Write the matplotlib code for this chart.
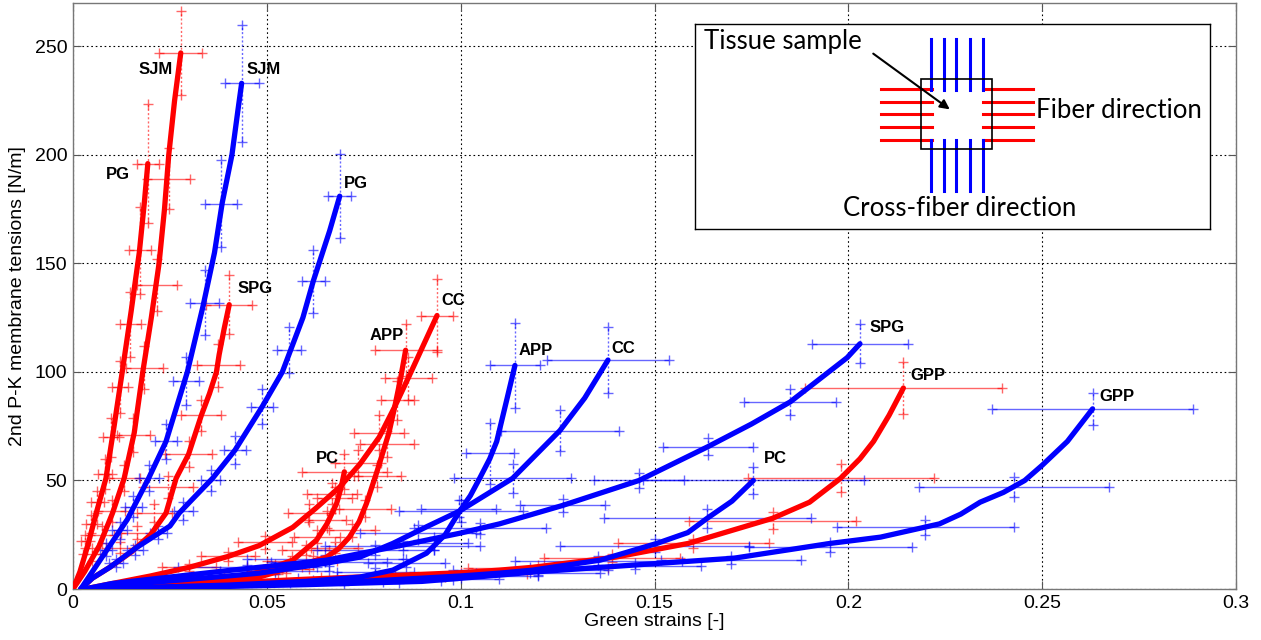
import numpy as np
import matplotlib
matplotlib.use("Agg")
import matplotlib.pyplot as plt

plt.rcParams["font.family"] = ["Liberation Sans", "DejaVu Sans"]

RED = "#ff0000"
BLUE = "#0000ff"

# ---- fiber direction (red) ----
sjm_f_x = [0, 0.003, 0.0068, 0.0102, 0.0132, 0.0158, 0.018, 0.0202, 0.0222, 0.0236, 0.0247, 0.0262, 0.0278]
sjm_f_y = [0, 8, 20, 35, 51, 72, 100, 125, 150, 175, 200, 225, 247]
sjm_f_bars = [(0.0278, 247, 0.0056, 19.5), (0.0247, 189, 0.0055, 14), (0.0217, 140, 0.0051, 12),
              (0.0184, 102, 0.0048, 10), (0.0156, 71, 0.0043, 8), (0.0132, 51, 0.004, 6),
              (0.0100, 36, 0.0035, 5), (0.0075, 25, 0.003, 4), (0.005, 16, 0.0025, 3)]

pg_f_x = [0, 0.0018, 0.0038, 0.006, 0.0085, 0.0106, 0.0127, 0.015, 0.0171, 0.0184, 0.0193]
pg_f_y = [0, 8, 20, 35, 51, 75, 100, 128, 155, 178, 196]
pg_f_bars = [(0.0193, 196, 0.0029, 27.5), (0.0172, 156, 0.0028, 20), (0.0148, 122, 0.0028, 15),
             (0.0122, 93, 0.0021, 12), (0.0098, 70, 0.002, 9), (0.0082, 53, 0.0018, 7),
             (0.0063, 40, 0.0016, 5), (0.0047, 30, 0.0014, 4), (0.0032, 22, 0.0012, 3)]

spg_f_x = [0.002, 0.005, 0.0095, 0.015, 0.020, 0.024, 0.0266, 0.0298, 0.0331, 0.0352, 0.037, 0.0377, 0.039, 0.0403]
spg_f_y = [0, 5, 10, 17, 25, 35, 51, 62, 80, 90, 100, 108, 120, 131]
spg_f_bars = [(0.0403, 131, 0.006, 13.5), (0.0375, 103, 0.0056, 10), (0.0331, 80, 0.0052, 7),
              (0.0298, 62, 0.006, 6), (0.0245, 47, 0.0065, 5), (0.021, 35, 0.0045, 4),
              (0.0165, 26, 0.0042, 3), (0.012, 19, 0.0035, 2.5)]

app_f_x = [0.003, 0.02, 0.04, 0.048, 0.0567, 0.0654, 0.0685, 0.0713, 0.0738, 0.0757, 0.0785, 0.0815, 0.083, 0.0845, 0.0858]
app_f_y = [0, 1.5, 3, 5.5, 10, 14.7, 18.5, 23.9, 31, 39.4, 54.6, 72, 84, 97, 110]
app_f_bars = [(0.0858, 110, 0.008, 12), (0.0837, 87, 0.0043, 9), (0.081, 67, 0.007, 6),
              (0.0785, 52, 0.006, 5), (0.0753, 37, 0.0067, 4), (0.072, 27, 0.006, 3),
              (0.0675, 19, 0.006, 2.5), (0.062, 13, 0.006, 2), (0.055, 9, 0.006, 1.5)]

cc_f_x = [0.003, 0.01, 0.02, 0.03, 0.04, 0.048, 0.0567, 0.0625, 0.0687, 0.074, 0.079, 0.083, 0.0872, 0.0939]
cc_f_y = [0, 2.5, 6, 10, 15, 20, 28.4, 37, 46.8, 57.5, 70, 84, 100, 126]
cc_f_bars = [(0.0939, 126, 0.0042, 17), (0.0865, 97, 0.006, 10), (0.079, 72, 0.0065, 8),
             (0.0735, 58, 0.006, 6), (0.0668, 44, 0.0065, 5), (0.061, 35, 0.0055, 4),
             (0.0495, 21.6, 0.007, 3), (0.040, 15, 0.007, 2), (0.030, 10, 0.007, 1.5)]

pc_f_x = [0.003, 0.015, 0.03, 0.04, 0.048, 0.0567, 0.0628, 0.0655, 0.068, 0.0692, 0.070]
pc_f_y = [0, 1.5, 3, 5, 7.8, 13.3, 22.5, 30, 39.4, 47, 54]
pc_f_bars = [(0.070, 54, 0.011, 8), (0.0675, 42, 0.0045, 5), (0.0655, 32, 0.005, 4),
             (0.063, 24, 0.006, 3), (0.060, 18, 0.006, 2.5), (0.0565, 13, 0.0065, 2),
             (0.052, 10, 0.007, 1.5), (0.046, 7, 0.007, 1.2)]

gpp_f_x = [0.003, 0.03, 0.06, 0.08, 0.1, 0.11, 0.1186, 0.14, 0.1587, 0.1805, 0.190, 0.198, 0.203, 0.2065, 0.2105, 0.2142]
gpp_f_y = [0, 2, 4.5, 6, 7.5, 8.7, 10, 14.7, 21, 32.6, 40, 51, 60, 68, 80, 92.6]
gpp_f_bars = [(0.2142, 92.6, 0.0255, 12), (0.198, 51, 0.024, 6.5), (0.1805, 31.5, 0.0215, 3.8),
              (0.160, 21, 0.0195, 2.2), (0.139, 14.2, 0.0175, 1.8), (0.120, 9.6, 0.018, 1.3),
              (0.10, 7, 0.017, 1), (0.08, 5.5, 0.016, 0.8)]

# ---- cross-fiber direction (blue) ----
sjm_c_x = [0.002, 0.005, 0.0095, 0.014, 0.0195, 0.024, 0.0295, 0.0335, 0.0365, 0.0385, 0.041, 0.0425, 0.0435]
sjm_c_y = [0, 8, 20, 32, 51, 68, 100, 130, 155, 178, 200, 220, 233]
sjm_c_bars = [(0.0435, 233, 0.0044, 27), (0.0382, 177.5, 0.0042, 20), (0.034, 132, 0.0037, 15),
              (0.0292, 96, 0.0033, 11), (0.024, 68, 0.0029, 8), (0.0195, 51, 0.0026, 6),
              (0.0155, 38, 0.0022, 5), (0.012, 27, 0.0019, 4), (0.0085, 18, 0.0016, 3)]

pg_c_x = [0.002, 0.005, 0.0095, 0.0163, 0.025, 0.0274, 0.0306, 0.036, 0.0418, 0.0488, 0.054, 0.0593, 0.062, 0.0662, 0.0688]
pg_c_y = [0, 5, 10, 19, 29, 35, 41, 51, 64, 84, 100, 125, 142, 165, 181]
pg_c_bars = [(0.0688, 181, 0.003, 19.5), (0.062, 141.7, 0.003, 14.5), (0.0556, 110, 0.0031, 10.5),
             (0.0488, 84, 0.0028, 8), (0.0418, 64, 0.0029, 6.5), (0.0355, 50, 0.0025, 5),
             (0.0285, 36, 0.0025, 4), (0.022, 26, 0.0022, 3), (0.016, 18, 0.002, 2.5), (0.011, 12, 0.0018, 2)]

spg_c_x = [0.003, 0.01, 0.02, 0.03, 0.04, 0.048, 0.0654, 0.0825, 0.0998, 0.110, 0.1263, 0.146, 0.1638, 0.175, 0.185, 0.1997, 0.203]
spg_c_y = [0, 2.5, 4.5, 6.5, 8.5, 10, 13.3, 19.3, 25.7, 30, 38.5, 50, 65.6, 76, 86.2, 106.6, 113]
spg_c_bars = [(0.203, 113, 0.0125, 9), (0.185, 86.2, 0.0119, 6), (0.1638, 65.6, 0.0117, 4),
              (0.146, 50, 0.0115, 3.5), (0.1263, 38.5, 0.011, 3), (0.105, 28, 0.017, 2.5),
              (0.085, 20, 0.02, 2), (0.065, 14, 0.02, 1.5), (0.045, 10, 0.018, 1)]

app_c_x = [0.003, 0.02, 0.04, 0.06, 0.074, 0.0825, 0.0912, 0.096, 0.0998, 0.1025, 0.1049, 0.1075, 0.1093, 0.112, 0.114]
app_c_y = [0, 0.8, 1.8, 3.5, 5.5, 8.7, 16.5, 25, 36, 43, 51, 60, 68, 88, 103]
app_c_bars = [(0.114, 103, 0.0065, 19.5), (0.1075, 62.5, 0.0062, 14), (0.0995, 37, 0.0097, 4),
              (0.093, 21, 0.009, 3), (0.086, 12, 0.01, 2), (0.078, 8, 0.01, 1.5), (0.068, 5, 0.01, 1)]

cc_c_x = [0.003, 0.01, 0.02, 0.03, 0.04, 0.048, 0.0654, 0.074, 0.0825, 0.091, 0.0998, 0.1134, 0.1256, 0.132, 0.138]
cc_c_y = [0, 1.5, 3, 4.5, 6, 7.3, 11.9, 14.7, 21, 28.5, 36, 51, 73, 88, 105.5]
cc_c_bars = [(0.138, 105.5, 0.0157, 15), (0.1256, 73, 0.0153, 9.5), (0.1134, 51, 0.015, 6.7),
             (0.100, 36, 0.016, 5), (0.089, 26, 0.015, 3.5), (0.078, 18, 0.015, 2.5),
             (0.066, 12.5, 0.015, 2), (0.052, 8.5, 0.014, 1.5)]

pc_c_x = [0.003, 0.03, 0.06, 0.08, 0.1, 0.110, 0.1186, 0.136, 0.1506, 0.1586, 0.1636, 0.170, 0.1755]
pc_c_y = [0, 1, 2.5, 4, 6, 7.3, 8.7, 13.3, 21, 26, 32.6, 40.5, 50]
pc_c_bars = [(0.1755, 50, 0.0285, 6), (0.1636, 32.6, 0.0267, 4.3), (0.150, 20, 0.0245, 3),
             (0.1355, 13, 0.0215, 2), (0.118, 8.7, 0.02, 1.5), (0.10, 6, 0.02, 1), (0.08, 4, 0.018, 0.8)]

gpp_c_x = [0.003, 0.03, 0.06, 0.09, 0.110, 0.1186, 0.1444, 0.1705, 0.1953, 0.2083, 0.2235, 0.229, 0.234, 0.24, 0.2455, 0.25, 0.2565, 0.263]
gpp_c_y = [0, 0.8, 2, 3.5, 6.4, 7.8, 11, 14.2, 21, 23.9, 30, 34.5, 40, 44.5, 50, 57, 68, 83]
gpp_c_bars = [(0.263, 83, 0.026, 7.3), (0.2428, 47, 0.0245, 4.5), (0.2199, 28.5, 0.0228, 3.5),
              (0.1953, 19.3, 0.021, 2.2), (0.1698, 13.3, 0.018, 1.8), (0.145, 10.5, 0.017, 1.5),
              (0.12, 7.5, 0.016, 1.2), (0.095, 4.5, 0.015, 1), (0.07, 2.8, 0.014, 0.8)]

fiber = [(sjm_f_x, sjm_f_y, sjm_f_bars), (pg_f_x, pg_f_y, pg_f_bars), (spg_f_x, spg_f_y, spg_f_bars),
         (app_f_x, app_f_y, app_f_bars), (cc_f_x, cc_f_y, cc_f_bars), (pc_f_x, pc_f_y, pc_f_bars),
         (gpp_f_x, gpp_f_y, gpp_f_bars)]
cross = [(sjm_c_x, sjm_c_y, sjm_c_bars), (pg_c_x, pg_c_y, pg_c_bars), (spg_c_x, spg_c_y, spg_c_bars),
         (app_c_x, app_c_y, app_c_bars), (cc_c_x, cc_c_y, cc_c_bars), (pc_c_x, pc_c_y, pc_c_bars),
         (gpp_c_x, gpp_c_y, gpp_c_bars)]

# curve name labels (text, x, y)
labels = [("SJM", 0.0212, 239.5), ("SJM", 0.0493, 239.5), ("PG", 0.0116, 191), ("PG", 0.073, 187),
          ("SPG", 0.0469, 138.3), ("APP", 0.081, 117), ("CC", 0.098, 133), ("APP", 0.1194, 110),
          ("CC", 0.142, 111), ("PC", 0.0655, 60), ("SPG", 0.210, 120.6), ("GPP", 0.2205, 98.4),
          ("GPP", 0.2693, 88.8), ("PC", 0.1813, 60)]


def draw_bars(ax, bars, color):
    x, y, xe, ye = np.array(bars).T
    kw = dict(color=color, alpha=0.6, zorder=2)
    ax.hlines(y, x - xe, x + xe, lw=1.0, **kw)
    ax.vlines(x, y - ye, y + ye, lw=1.0, linestyles=(0, (1.5, 1.5)), **kw)
    ax.plot(np.r_[x - xe, x + xe, x, x], np.r_[y, y, y - ye, y + ye], ls="none",
            marker="+", ms=7, mew=1.0, **kw)


fig = plt.figure(figsize=(12.61, 6.40), dpi=100)
ax = fig.add_axes([73 / 1261, 1 - 589 / 640, (1236 - 73) / 1261, (589 - 3) / 640])

for group, col in ((fiber, RED), (cross, BLUE)):
    for cx, cy, bars in group:
        draw_bars(ax, bars, col)
for group, col in ((fiber, RED), (cross, BLUE)):
    for cx, cy, bars in group:
        ax.plot(cx, cy, color=col, lw=3.8, solid_capstyle="round", solid_joinstyle="round", zorder=3)

for txt, lx, ly in labels:
    ax.text(lx, ly, txt, fontsize=12, fontweight="bold", ha="center", va="center", zorder=5)

ax.set_xlim(0, 0.3)
ax.set_ylim(0, 270)
ax.set_xticks([0, 0.05, 0.1, 0.15, 0.2, 0.25, 0.3])
ax.set_xticklabels(["0", "0.05", "0.1", "0.15", "0.2", "0.25", "0.3"])
ax.set_yticks([0, 50, 100, 150, 200, 250])
ax.tick_params(direction="in", top=True, right=True, labelsize=14, length=6, color="#555555", pad=4)
ax.grid(True, color="black", lw=0.8, linestyle=(0, (1.5, 2.5)))
ax.set_axisbelow(True)
for sp in ax.spines.values():
    sp.set_color("#777777")
    sp.set_linewidth(1.0)
ax.set_xlabel("Green strains [-]", fontsize=14, labelpad=1)
ax.set_ylabel("2nd P-K membrane tensions [N/m]", fontsize=14, labelpad=6)

# inset schematic (local pixel-like drawing units)
ins = fig.add_axes([695 / 1261, 1 - 229 / 640, 515 / 1261, 205 / 640], zorder=10)
ins.set_xlim(0, 515)
ins.set_ylim(205, 0)
ins.set_xticks([])
ins.set_yticks([])
for sp in ins.spines.values():
    sp.set_color("black")
    sp.set_linewidth(1.0)

fiber_rows = [65, 78, 90, 103, 116]
cross_cols = [236, 249, 261, 275, 288]
for yy in fiber_rows:
    ins.plot([186, 237], [yy, yy], color=RED, lw=2.2)
    ins.plot([288, 338], [yy, yy], color=RED, lw=2.2)
for xx in cross_cols:
    ins.plot([xx, xx], [15, 66], color=BLUE, lw=2.2)
    ins.plot([xx, xx], [116, 167], color=BLUE, lw=2.2)
ins.add_patch(plt.Rectangle((226, 55), 71, 70, fill=False, ec="black", lw=1.2, zorder=3))
ins.annotate("", xy=(257, 87), xytext=(176, 28),
             arrowprops=dict(arrowstyle="-|>", color="black", lw=1.5, mutation_scale=14))
ifont = ["Lato", "DejaVu Sans"]
ins.text(9, 18, "Tissue sample", fontsize=18.5, family=ifont, ha="left", va="center")
ins.text(341, 86, "Fiber direction", fontsize=18.5, family=ifont, ha="left", va="center")
ins.text(265, 184, "Cross-fiber direction", fontsize=18.5, family=ifont, ha="center", va="center")

fig.savefig("out.png", dpi=100)
